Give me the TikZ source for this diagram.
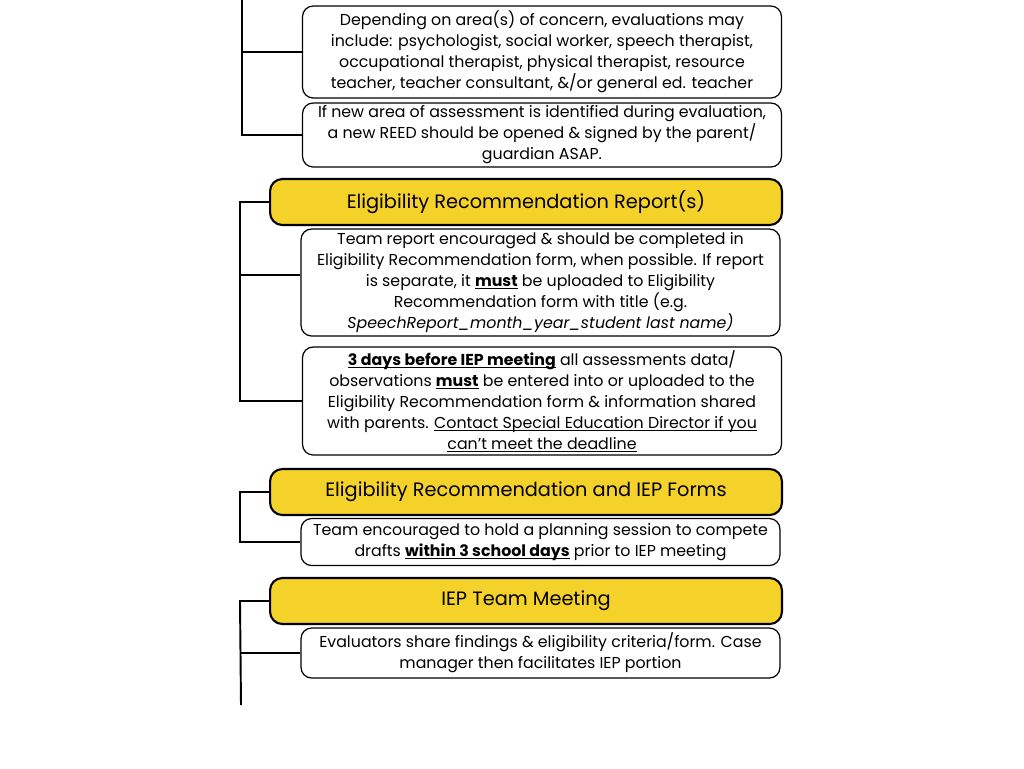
\documentclass[tikz,border=0pt]{standalone}
\usepackage{fontspec}
\setmainfont{Poppins}
\usetikzlibrary{positioning,calc}
\definecolor{headyellow}{RGB}{245,210,42}
\tikzset{
  note/.style={draw,rounded corners=6pt,fill=white,line width=0.7pt,
    align=center,inner sep=0pt,minimum width=9.58cm,
    font=\fontsize{9}{11.95}\selectfont},
  stage/.style={draw,rounded corners=7pt,fill=headyellow,line width=1.2pt,
    align=center,inner sep=0pt,minimum width=10.24cm,minimum height=0.92cm,
    font=\fontsize{11}{13}\selectfont},
  branch/.style={line width=1.1pt}
}
\newsavebox\ulbox
\newcommand{\uln}[1]{\sbox\ulbox{#1}\rlap{\rule[-1.5pt]{\wd\ulbox}{0.5pt}}\usebox\ulbox}
\newcommand{\keyterm}[1]{\uln{\textbf{#1}}}
\begin{document}
\begin{tikzpicture}[x=0.02cm,y=-0.02cm]
  \useasboundingbox (0,0) rectangle (1024,768);
  % evaluation notes
  \node[note,minimum height=1.84cm] (evaluators) at (542,52)
    {Depending on area(s) of concern, evaluations may\\
     include: psychologist, social worker, speech therapist,\\
     occupational therapist, physical therapist, resource\\
     teacher, teacher consultant, \&/or general ed. teacher};
  \node[note,minimum height=1.28cm] (newreed) at (542,135)
    {If new area of assessment is identified during evaluation,\\
     a new REED should be opened \& signed by the parent/\\
     guardian ASAP.};
  \coordinate (evaltop) at (242,0);
  \draw[branch] (evaltop) |- (newreed.west);
  \draw[branch] (evaltop |- evaluators.west) -- (evaluators.west);
  % eligibility report
  \node[stage] (report) at (526,202) {Eligibility Recommendation Report(s)};
  \node[note,minimum height=2.14cm] (teamreport) at (540.5,282.5)
    {Team report encouraged \& should be completed in\\
     Eligibility Recommendation form, when possible. If report\\
     is separate, it \keyterm{must} be uploaded to Eligibility\\
     Recommendation form with title (e.g.\\
     \textit{SpeechReport\_month\_year\_student last name)}};
  \node[note,minimum height=2.16cm] (deadline) at (542,401)
    {\keyterm{3 days before IEP meeting} all assessments data/\\
     observations \keyterm{must} be entered into or uploaded to the\\
     Eligibility Recommendation form \& information shared\\
     with parents. \uln{Contact Special Education Director if you}\\
     \uln{can't meet the deadline}};
  \draw[branch] (report.west) -- ++(-29,0) |- (deadline.west);
  \draw[branch] ([yshift=0.15cm]teamreport.west) -- ++(-60,0);
  % forms
  \node[stage] (forms) at (526,492) {Eligibility Recommendation and IEP Forms};
  \node[note,minimum height=0.94cm] (planning) at (540.5,542)
    {Team encouraged to hold a planning session to compete\\
     drafts \keyterm{within 3 school days} prior to IEP meeting};
  \draw[branch] (forms.west) -- ++(-29,0) |- (planning.west);
  % meeting
  \node[stage] (meeting) at (526,601) {IEP Team Meeting};
  \node[note,minimum height=1cm] (findings) at (540.5,653)
    {Evaluators share findings \& eligibility criteria/form. Case\\
     manager then facilitates IEP portion};
  \coordinate (meetbottom) at (241,705);
  \draw[branch] (meeting.west) -- ++(-29,0) -- (meetbottom);
  \draw[branch] (meetbottom |- findings.west) -- (findings.west);
\end{tikzpicture}
\end{document}
